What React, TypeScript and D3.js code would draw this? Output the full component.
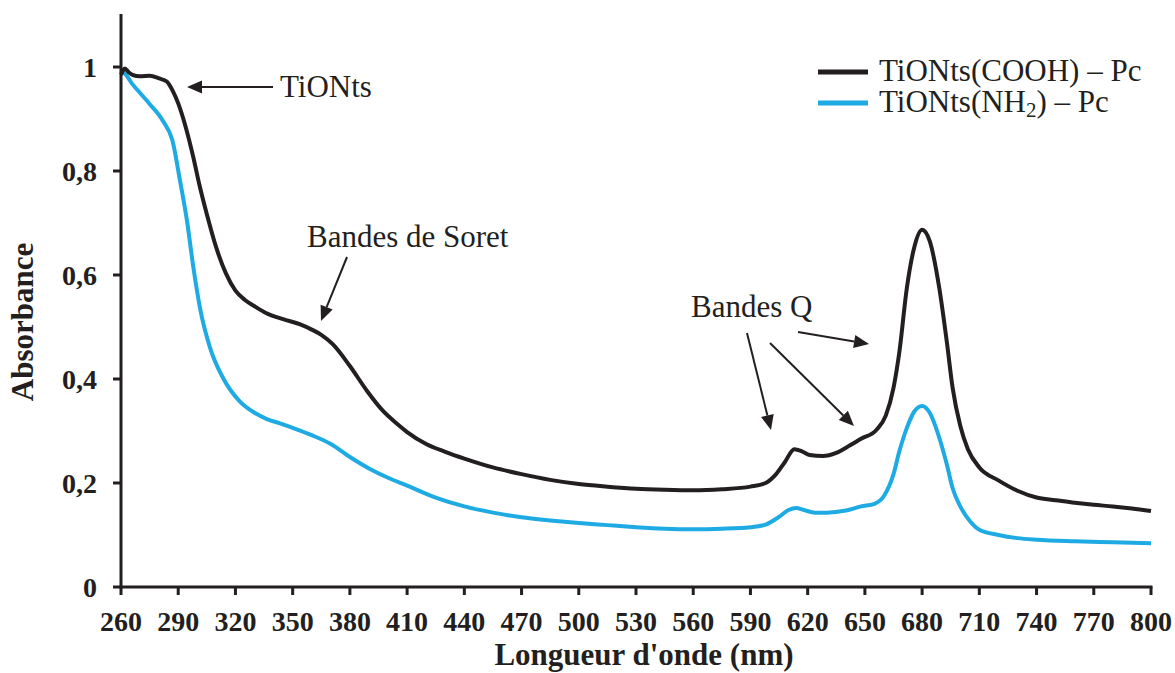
import React from "react";
import * as d3 from "d3";

const xTicks = [260, 290, 320, 350, 380, 410, 440, 470, 500, 530, 560, 590, 620, 650, 680, 710, 740, 770, 800];
const yTicks = [0, 0.2, 0.4, 0.6, 0.8, 1];
const yTickLabels = ["0", "0,2", "0,4", "0,6", "0,8", "1"];

const coohWavelength = [260, 262, 264, 266, 270, 275, 280, 284, 287, 290, 293.5, 298, 301, 305, 310, 315, 320, 325, 330, 336, 345, 354, 360, 365, 371, 380, 389, 397, 405, 410, 420, 430, 440, 455, 470, 485, 500, 515, 530, 545, 560, 575, 590, 598, 603, 608, 613, 617, 621, 628, 635, 642, 648, 656, 661, 665, 668, 672, 676, 680, 684, 689, 693, 696, 700, 704, 710, 720, 730, 740, 750, 760, 770, 780, 790, 800];
const coohAbs = [0.985, 0.997, 0.99, 0.985, 0.982, 0.983, 0.978, 0.972, 0.955, 0.93, 0.89, 0.825, 0.775, 0.717, 0.652, 0.603, 0.57, 0.552, 0.54, 0.527, 0.515, 0.505, 0.495, 0.485, 0.467, 0.425, 0.377, 0.34, 0.313, 0.298, 0.275, 0.26, 0.247, 0.23, 0.217, 0.206, 0.198, 0.193, 0.189, 0.187, 0.186, 0.188, 0.193, 0.2, 0.215, 0.24, 0.265, 0.261, 0.254, 0.252, 0.258, 0.272, 0.285, 0.302, 0.33, 0.383, 0.45, 0.575, 0.655, 0.687, 0.665, 0.575, 0.47, 0.383, 0.31, 0.265, 0.23, 0.205, 0.185, 0.172, 0.167, 0.162, 0.158, 0.155, 0.151, 0.146];

const nh2Wavelength = [260, 263, 266, 270, 275, 282, 287, 291, 294.6, 298, 301.4, 306.7, 313.5, 322, 330, 336.5, 343, 350, 360, 370, 380, 390, 400, 410, 425, 440, 455, 470, 485, 500, 515, 530, 545, 560, 575, 590, 598, 605, 610, 614, 618, 624, 630, 640, 648, 655, 660, 665, 668, 672, 676, 680, 684, 689, 693, 696, 700, 705, 710, 720, 730, 740, 760, 780, 800];
const nh2Abs = [0.995, 0.983, 0.967, 0.95, 0.929, 0.896, 0.858, 0.78, 0.704, 0.613, 0.537, 0.46, 0.402, 0.358, 0.335, 0.323, 0.315, 0.306, 0.292, 0.275, 0.25, 0.228, 0.21, 0.195, 0.172, 0.155, 0.143, 0.134, 0.128, 0.123, 0.119, 0.115, 0.112, 0.111, 0.112, 0.115, 0.12, 0.135, 0.148, 0.152, 0.148, 0.143, 0.143, 0.147, 0.155, 0.16, 0.175, 0.217, 0.26, 0.306, 0.338, 0.348, 0.335, 0.287, 0.235, 0.19, 0.155, 0.127, 0.11, 0.1, 0.094, 0.091, 0.088, 0.086, 0.084];

const seriesNames = ["TiONts(COOH) – Pc", "TiONts(NH", "2", ") – Pc"];
const BLACK = "#231f20";
const BLUE = "#1eaae2";
const FONT = "'Liberation Serif', 'Times New Roman', serif";

export default function App() {
  const W = 1175, H = 673;
  const x = d3.scaleLinear().domain([260, 800]).range([121, 1151]);
  const y = d3.scaleLinear().domain([0, 1.1]).range([587, 15]);

  const line = d3.line<[number, number]>()
    .x(d => x(d[0]))
    .y(d => y(d[1]))
    .curve(d3.curveMonotoneX);

  const coohPts = coohWavelength.map((w, i) => [w, coohAbs[i]] as [number, number]);
  const nh2Pts = nh2Wavelength.map((w, i) => [w, nh2Abs[i]] as [number, number]);

  const arrows = [
    { x1: 273, y1: 87, x2: 187, y2: 87 },
    { x1: 347, y1: 257, x2: 321, y2: 321 },
    { x1: 747, y1: 333, x2: 771, y2: 430 },
    { x1: 770, y1: 343, x2: 854, y2: 426 },
    { x1: 798, y1: 332, x2: 869, y2: 344 },
  ];

  const arrowHead = (a: any, i: number) => {
    const ang = Math.atan2(a.y2 - a.y1, a.x2 - a.x1);
    const L = 15, Wd = 6.5;
    const bx = a.x2 - L * Math.cos(ang), by = a.y2 - L * Math.sin(ang);
    const px = -Math.sin(ang) * Wd, py = Math.cos(ang) * Wd;
    return (
      <g key={i}>
        <line x1={a.x1} y1={a.y1} x2={bx} y2={by} stroke={BLACK} strokeWidth={2} />
        <polygon points={`${a.x2},${a.y2} ${bx + px},${by + py} ${bx - px},${by - py}`} fill={BLACK} />
      </g>
    );
  };

  return (
    <svg width={W} height={H} style={{ position: "absolute", left: 0, top: 0, background: "#fff" }} fontFamily={FONT}>
      <rect width={W} height={H} fill="#fff" />
      {/* curves */}
      <path d={line(nh2Pts) || ""} fill="none" stroke={BLUE} strokeWidth={4} strokeLinejoin="round" />
      <path d={line(coohPts) || ""} fill="none" stroke={BLACK} strokeWidth={4} strokeLinejoin="round" />

      {/* axes */}
      <line x1={x(260)} y1={14} x2={x(260)} y2={y(0) + 1.5} stroke={BLACK} strokeWidth={3} />
      <line x1={x(260) - 1.5} y1={y(0)} x2={x(800) + 1.5} y2={y(0)} stroke={BLACK} strokeWidth={3} />
      {xTicks.map(t => (
        <g key={"xt" + t}>
          <line x1={x(t)} x2={x(t)} y1={y(0)} y2={y(0) + 8} stroke={BLACK} strokeWidth={3} />
          <text x={x(t)} y={631} textAnchor="middle" fontSize={28} fontWeight="bold" fill={BLACK}>{t}</text>
        </g>
      ))}
      {yTicks.map((t, i) => (
        <g key={"yt" + t}>
          <line x1={x(260) - 8} x2={x(260)} y1={y(t)} y2={y(t)} stroke={BLACK} strokeWidth={3} />
          <text x={97} y={y(t) + 10} textAnchor="end" fontSize={28} fontWeight="bold" fill={BLACK}>{yTickLabels[i]}</text>
        </g>
      ))}
      <text x={644} y={665} textAnchor="middle" fontSize={31} fontWeight="bold" fill={BLACK}>Longueur d'onde (nm)</text>
      <text transform="translate(33,322) rotate(-90)" textAnchor="middle" fontSize={31} fontWeight="bold" fill={BLACK}>Absorbance</text>

      {/* legend */}
      <line x1={818} x2={868} y1={72} y2={72} stroke={BLACK} strokeWidth={5} />
      <line x1={818} x2={868} y1={103} y2={103} stroke={BLUE} strokeWidth={5} />
      <text x={879} y={81} fontSize={31} fill={BLACK}>{seriesNames[0]}</text>
      <text x={879} y={112} fontSize={31} fill={BLACK}>
        {seriesNames[1]}
        <tspan fontSize={21} dy={5}>{seriesNames[2]}</tspan>
        <tspan dy={-5}>{seriesNames[3]}</tspan>
      </text>

      {/* annotations */}
      <text x={280} y={97} fontSize={31} fill={BLACK}>TiONts</text>
      <text x={307} y={247} fontSize={31} fill={BLACK}>Bandes de Soret</text>
      <text x={691} y={317} fontSize={31} fill={BLACK}>Bandes Q</text>
      {arrows.map(arrowHead)}
    </svg>
  );
}
